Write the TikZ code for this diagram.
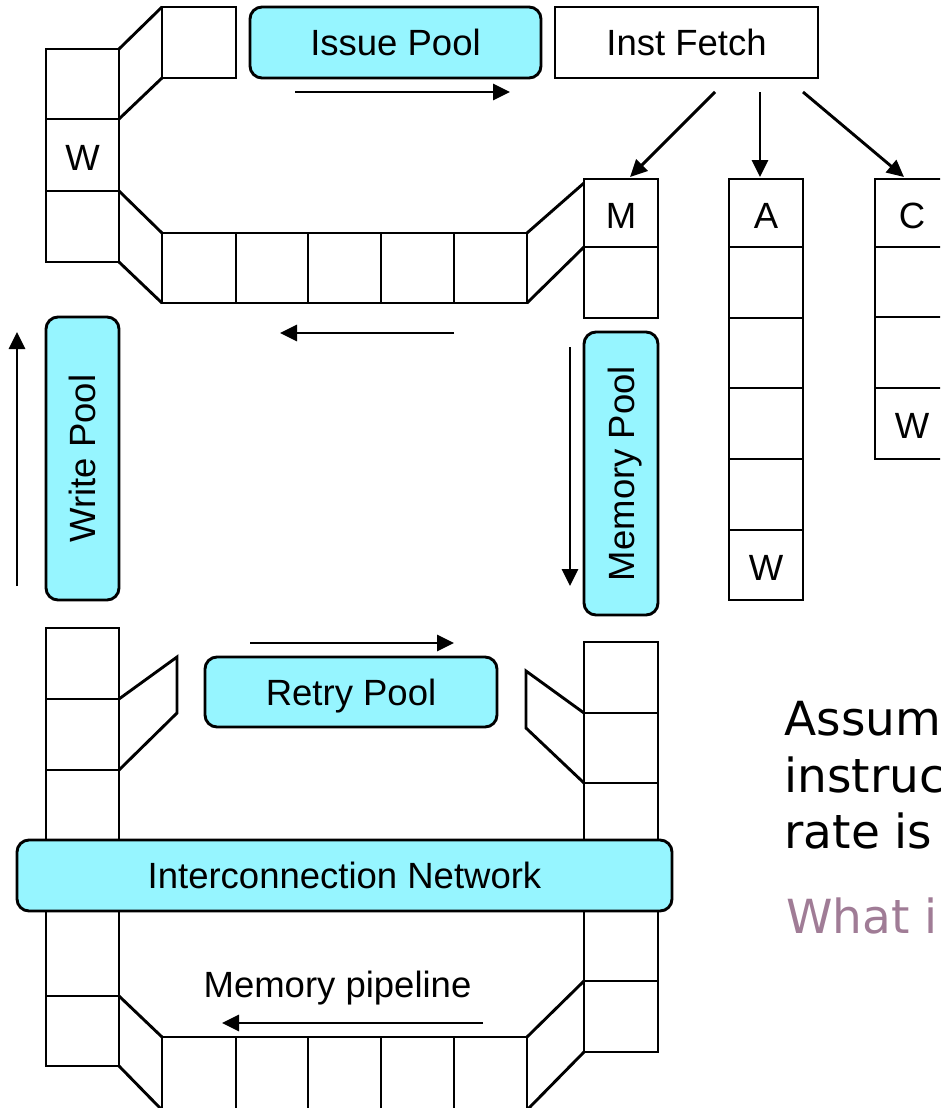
\documentclass[tikz,border=0pt]{standalone}
\usepackage{fontspec}
\setmainfont{Liberation Sans}
\newfontfamily\notefont{DejaVu Sans}
\usetikzlibrary{arrows.meta}

\definecolor{poolcyan}{RGB}{150,245,255}
\definecolor{askmauve}{RGB}{160,124,150}

\tikzset{
	boxtext/.style = {inner sep = 0pt, text height = 26pt, text depth = 0pt, font = \fontsize{36.5}{44}\selectfont},
	pool/.style = {boxtext, draw, fill = poolcyan, rounded corners = 12pt},
	stage/.style = {boxtext, draw, fill = white},
	flow/.style = {-{Triangle[length = 17pt, width = 16pt]}},
	note/.style = {anchor = base west, inner sep = 0pt, font = \notefont\fontsize{47}{56}\selectfont}
}

\begin{document}
\begin{tikzpicture}[x = 1pt, y = -1pt, line width = 2.9pt]

	\useasboundingbox (0, 0) rectangle (940, 1108);
	\clip (0, 0) rectangle (940, 1108);

	% Upper ring of cells

	\draw (46, 49) rectangle (119, 262);
	\draw (46, 119) -- (119, 119) (46, 191) -- (119, 191);
	\draw (162, 7) rectangle (236, 78);
	\draw (119, 49) -- (162, 7) (119, 119) -- (162, 78);
	\draw (119, 191) -- (162, 233) (119, 262) -- (162, 303);
	\draw (162, 233) rectangle (527, 303);
	\draw (236, 233) -- (236, 303) (308, 233) -- (308, 303) (381, 233) -- (381, 303) (454, 233) -- (454, 303);
	\draw (527, 233) -- (584, 183) (527, 303) -- (584, 247);

	% Unit pipes

	\draw (584, 179) rectangle (658, 318);
	\draw (584, 247) -- (658, 247);
	\draw (729, 179) rectangle (803, 600);
	\draw (729, 247) -- (803, 247) (729, 318) -- (803, 318) (729, 388) -- (803, 388);
	\draw (729, 459) -- (803, 459) (729, 530) -- (803, 530);
	\draw (875, 179) rectangle (950, 459);
	\draw (875, 247) -- (950, 247) (875, 317) -- (950, 317) (875, 388) -- (950, 388);

	\node [boxtext] (wtop) at (82.5, 157) {W};
	\node [boxtext] (mhead) at (621, 215) {M};
	\node [boxtext] (ahead) at (766, 215) {A};
	\node [boxtext] (aback) at (766, 567) {W};
	\node [boxtext] (chead) at (912, 215) {C};
	\node [boxtext] (cback) at (912, 425) {W};

	% Lower ring of cells

	\draw (46, 628) rectangle (119, 1066);
	\draw (46, 699) -- (119, 699) (46, 770) -- (119, 770) (46, 996) -- (119, 996);
	\draw (119, 699) -- (177, 657) -- (177, 713) -- (119, 770);
	\draw (584, 642) rectangle (658, 1052);
	\draw (584, 713) -- (658, 713) (584, 783) -- (658, 783) (584, 981) -- (658, 981);
	\draw (584, 713) -- (526, 671) -- (526, 728) -- (584, 783);
	\draw (162, 1037) rectangle (527, 1110);
	\draw (236, 1037) -- (236, 1110) (308, 1037) -- (308, 1110) (381, 1037) -- (381, 1110) (454, 1037) -- (454, 1110);
	\draw (119, 996) -- (162, 1037) (119, 1066) -- (162, 1110);
	\draw (527, 1037) -- (584, 981) (527, 1110) -- (584, 1052);

	% Pools and stages

	\node [pool, minimum width = 291pt, minimum height = 71pt] (issue) at (395.5, 42.5) {Issue Pool};
	\node [stage, minimum width = 263pt, minimum height = 71pt] (fetch) at (686.5, 42.5) {Inst Fetch};
	\node [pool, rotate = 90, minimum width = 283pt, minimum height = 73pt] (write) at (82.5, 458.5) {Write Pool};
	\node [pool, rotate = 90, minimum width = 283pt, minimum height = 74pt] (mempool) at (621, 473.5) {Memory Pool};
	\node [pool, minimum width = 292pt, minimum height = 70pt] (retry) at (351, 692) {Retry Pool};
	\node [pool, minimum width = 655pt, minimum height = 71pt] (network) at (344.5, 875.5) {Interconnection Network};
	\node [boxtext, anchor = base, text height = {}, text depth = {}] (pipe) at (337.5, 997) {Memory pipeline};

	% Flow arrows

	\coordinate (issA) at (295, 92);
	\coordinate (issB) at (510, 92);
	\coordinate (toM) at (715, 92);
	\coordinate (atM) at (630, 177);
	\coordinate (toA) at (760, 92);
	\coordinate (atA) at (760, 177);
	\coordinate (toC) at (803, 92);
	\coordinate (atC) at (904, 177);
	\coordinate (backA) at (454, 333);
	\coordinate (backB) at (280, 333);
	\coordinate (wrA) at (17, 586);
	\coordinate (wrB) at (17, 332);
	\coordinate (memA) at (570, 347);
	\coordinate (memB) at (570, 586);
	\coordinate (retA) at (250, 643);
	\coordinate (retB) at (454, 643);
	\coordinate (pipeA) at (483, 1023);
	\coordinate (pipeB) at (222, 1023);

	\draw [flow] (issA) -- (issB);
	\draw [flow] (toM) -- (atM);
	\draw [flow] (toA) -- (atA);
	\draw [flow] (toC) -- (atC);
	\draw [flow] (backA) -- (backB);
	\draw [flow] (wrA) -- (wrB);
	\draw [flow] (memA) -- (memB);
	\draw [flow] (retA) -- (retB);
	\draw [flow] (pipeA) -- (pipeB);

	% Question text

	\node [note] (ask1) at (783, 735) {Assum};
	\node [note] (ask2) at (783, 792) {instruc};
	\node [note] (ask3) at (783, 848) {rate is};
	\node [note, askmauve] (ask4) at (785, 933) {What i};

\end{tikzpicture}
\end{document}
